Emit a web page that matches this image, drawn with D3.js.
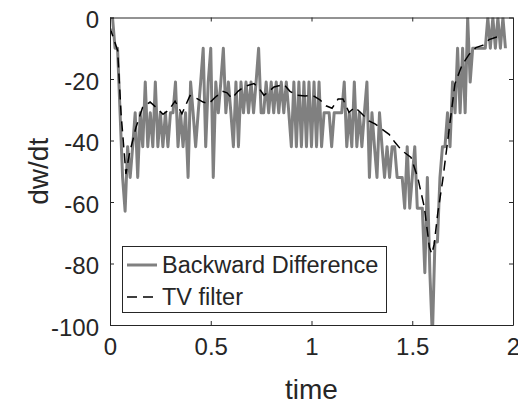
<!DOCTYPE html>
<html>
<head>
<meta charset="utf-8">
<script src="https://cdn.jsdelivr.net/npm/d3@7"></script>
<style>
  body { margin: 0; background: #fff; }
  text { font-family: "Liberation Sans", Arial, Helvetica, sans-serif; fill: #262626; }
</style>
</head>
<body>
<script>
// サンプル間隔 (backward difference)
const dt = 0.0125;

// backward difference の値 (t = 0 から dt ごと)
const backwardDiff = [
    0, 0, -10, -10, -31, -52, -63, -42, -52, -42,
    -31, -52, -31, -42, -21, -42, -31, -42, -21, -42,
    -31, -42, -31, -42, -31, -31, -21, -42, -31, -42,
    -31, -52, -21, -31, -42, -31, -21, -10, -42, -21,
    -10, -52, -21, -31, -21, -10, -31, -21, -31, -42,
    -21, -42, -21, -31, -21, -31, -21, -31, -21, -10,
    -31, -31, -21, -31, -21, -31, -21, -31, -21, -31,
    -21, -31, -42, -21, -42, -21, -42, -21, -42, -21,
    -42, -21, -42, -21, -42, -31, -31, -31, -42, -31,
    -31, -31, -31, -21, -42, -31, -42, -21, -42, -31,
    -42, -31, -21, -52, -31, -42, -52, -31, -42, -52,
    -42, -52, -42, -42, -52, -52, -52, -62, -42, -62,
    -52, -42, -62, -62, -62, -83, -52, -83, -104, -73,
    -73, -52, -42, -42, -31, -42, -21, -31, -10, -31,
    -10, -31, 0, -21, -10, -10, -10, -10, -10, -10,
    0, -10, 0, -10, 0, -10, 0, -10
];

// TV filter の曲線 (時間, 値)
const tvTime = [
    0, 0.005, 0.038, 0.055, 0.079, 0.096, 0.129, 0.162, 0.199, 0.233,
    0.263, 0.293, 0.323, 0.357, 0.397, 0.432, 0.462, 0.491, 0.521, 0.558,
    0.581, 0.605, 0.635, 0.665, 0.715, 0.739, 0.764, 0.789, 0.814, 0.864,
    0.893, 0.928, 0.968, 1.007, 1.042, 1.072, 1.102, 1.132, 1.156, 1.186,
    1.216, 1.251, 1.285, 1.315, 1.350, 1.385, 1.414, 1.449, 1.494, 1.527,
    1.560, 1.585, 1.597, 1.609, 1.626, 1.651, 1.676, 1.712, 1.747, 1.782,
    1.816, 1.851, 1.881, 1.916, 1.950
];
const tvValue = [
    -3, -4.3, -10.8, -31.4, -50.9, -44.4, -35.7, -29.2, -27.5, -29.5,
    -31.5, -30, -27.2, -31.3, -25.4, -26.4, -27.5, -28, -26, -24,
    -24.5, -26.3, -24, -22.5, -21.5, -23, -25.3, -24, -22.6, -21.8,
    -24, -25.3, -25.5, -25.4, -26.8, -28.7, -29.5, -26.5, -26.5, -30.8,
    -29.2, -31.4, -33.6, -34.6, -36.3, -38, -40.6, -43.3, -45.5, -52,
    -61.7, -74.7, -76.9, -73.7, -63.9, -53, -40, -21.5, -15.5, -12,
    -9.8, -9, -7.2, -6.4, -6.2
];

// 目盛り
const xTicks = [0, 0.5, 1, 1.5, 2];
const yTicks = [-100, -80, -60, -40, -20, 0];
const legendLabels = ["Backward Difference", "TV filter"];

const width = 518;
const height = 406;
const margin = { top: 17.5, right: 5, bottom: 81, left: 110 };
const axisColor = "#262626";
const tickFont = "24px";
const dashPattern = "10,6";

// スケール
const x = d3.scaleLinear()
    .domain([0, 2])
    .range([margin.left, width - margin.right]);
const y = d3.scaleLinear()
    .domain([-100, 0])
    .range([height - margin.bottom, margin.top]);

const svg = d3.select("body").append("svg")
    .attr("width", width)
    .attr("height", height);

// プロット領域でクリップ
svg.append("defs").append("clipPath")
    .attr("id", "plotClip")
  .append("rect")
    .attr("x", x(0))
    .attr("y", y(0))
    .attr("width", x(2) - x(0))
    .attr("height", y(-100) - y(0));

const bdData = backwardDiff.map((v, i) => ({ t: i * dt, v: v }));
const tvData = tvTime.map((t, i) => ({ t: t, v: tvValue[i] }));

const line = d3.line()
    .x(d => x(d.t))
    .y(d => y(d.v));

const plot = svg.append("g").attr("clip-path", "url(#plotClip)");

plot.append("path")
    .datum(bdData)
    .attr("d", line)
    .attr("fill", "none")
    .attr("stroke", "#808080")
    .attr("stroke-width", 3)
    .attr("stroke-linejoin", "round");

plot.append("path")
    .datum(tvData)
    .attr("d", line)
    .attr("fill", "none")
    .attr("stroke", "#000")
    .attr("stroke-width", 1.5)
    .attr("stroke-dasharray", dashPattern);

// 軸 (MATLAB 風に内向きの目盛り、四辺の枠)
const styleAxis = g => {
    g.selectAll("path.domain").attr("stroke", axisColor).attr("fill", "none");
    g.selectAll(".tick line").attr("stroke", axisColor);
    g.selectAll(".tick text")
        .attr("fill", axisColor)
        .style("font-size", tickFont);
};

svg.append("g")
    .attr("transform", `translate(0,${y(-100)})`)
    .call(d3.axisBottom(x).tickValues(xTicks).tickFormat(d => String(d))
        .tickSizeInner(-4).tickSizeOuter(0).tickPadding(13))
    .call(styleAxis);

svg.append("g")
    .attr("transform", `translate(0,${y(0)})`)
    .call(d3.axisTop(x).tickValues(xTicks).tickFormat("")
        .tickSizeInner(-4).tickSizeOuter(0))
    .call(styleAxis);

svg.append("g")
    .attr("transform", `translate(${x(0)},0)`)
    .call(d3.axisLeft(y).tickValues(yTicks).tickFormat(d => String(d))
        .tickSizeInner(-4).tickSizeOuter(0).tickPadding(11))
    .call(styleAxis)
    .call(g => g.selectAll(".tick text").attr("dy", "0.42em"));

svg.append("g")
    .attr("transform", `translate(${x(2)},0)`)
    .call(d3.axisRight(y).tickValues(yTicks).tickFormat("")
        .tickSizeInner(-4).tickSizeOuter(0))
    .call(styleAxis);

// 軸ラベル
svg.append("text")
    .attr("x", (x(0) + x(2)) / 2)
    .attr("y", 399)
    .attr("text-anchor", "middle")
    .style("font-size", "28px")
    .text("time");

svg.append("text")
    .attr("transform", `translate(48,${(y(0) + y(-100)) / 2}) rotate(-90)`)
    .attr("text-anchor", "middle")
    .style("font-size", "28px")
    .text("dw/dt");

// 凡例
const legend = svg.append("g");
legend.append("rect")
    .attr("x", 122.5)
    .attr("y", 246.5)
    .attr("width", 264)
    .attr("height", 66)
    .attr("fill", "#fff")
    .attr("stroke", axisColor)
    .attr("stroke-width", 1);

const legendY = [265, 297];
const legendStyle = [
    { stroke: "#808080", width: 3, dash: null },
    { stroke: "#000", width: 1.5, dash: dashPattern }
];

legendLabels.forEach((label, i) => {
    legend.append("line")
        .attr("x1", 127)
        .attr("x2", 157)
        .attr("y1", legendY[i])
        .attr("y2", legendY[i])
        .attr("stroke", legendStyle[i].stroke)
        .attr("stroke-width", legendStyle[i].width)
        .attr("stroke-dasharray", legendStyle[i].dash);
    legend.append("text")
        .attr("x", 162)
        .attr("y", legendY[i])
        .attr("dy", "0.35em")
        .style("font-size", "23.5px")
        .text(label);
});
</script>
</body>
</html>
